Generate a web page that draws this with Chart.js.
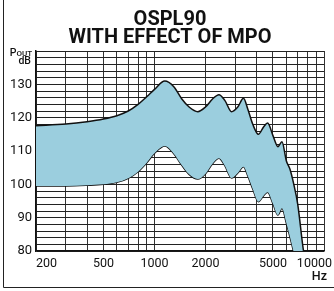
<!DOCTYPE html>
<html>
<head>
<meta charset="utf-8">
<script src="https://cdn.jsdelivr.net/npm/chart.js@4.4.1/dist/chart.umd.min.js"></script>
<style>
  html, body { margin: 0; padding: 0; background: #fff; }
  #wrap { width: 334px; height: 291px; position: relative; }
</style>
</head>
<body>
<div id="wrap"><canvas id="chartOspl" width="334" height="291"></canvas></div>
<script>
// frekuensi (Hz) yang dipakai kedua kurva
const freqs = [200, 300, 400, 500, 600, 700, 800, 900, 1000, 1150, 1300, 1450, 1600, 1800,
  2000, 2200, 2400, 2600, 2850, 3100, 3350, 3550, 3800, 4100, 4400, 4650, 5000, 5350,
  5650, 6000, 6300, 6600, 7000, 7500, 8000];

// batas atas (OSPL90)
const upperDb = [117.6, 118.1, 118.8, 119.6, 120.6, 122, 124, 126.3, 128.5, 131, 129.3,
  125.6, 123.2, 121.8, 123.2, 125.6, 126.9, 125.2, 121.8, 123.2, 125.8, 122.6, 118, 115,
  117.2, 118.4, 114.6, 111.3, 112.8, 107, 104.5, 100.5, 94, 81.5, 72];

// batas bawah (dengan efek MPO)
const lowerDb = [99.5, 99.5, 99.7, 100, 100.6, 101.8, 103.8, 106.5, 109.3, 111.5, 109.2,
  105.7, 103, 101.6, 103.2, 106.2, 107.8, 105.6, 101.9, 103.4, 105.3, 102.6, 98.6, 94.8,
  96.6, 97.6, 94.2, 90.8, 92.8, 88.3, 84.2, 80, 75, 68, 62];

// garis grid vertikal dan label sumbu
const gridFreqs = [200, 300, 400, 500, 600, 700, 800, 900, 1000, 2000, 3000, 4000, 5000,
  6000, 7000, 8000, 9000, 10000];
const xLabels = [200, 500, 1000, 2000, 5000, 10000];
const yLabels = [80, 90, 100, 110, 120, 130];
const titleLines = ['OSPL90', 'WITH EFFECT OF MPO'];

const toPoints = (vals) => freqs.map((f, i) => ({ x: f, y: vals[i] }));

const LABEL_FONT = '"Liberation Sans Narrow", "Roboto", sans-serif';

const extraText = {
  id: 'extraText',
  afterDraw(chart) {
    const { ctx } = chart;
    const xs = chart.scales.x;
    ctx.save();
    ctx.fillStyle = '#111';

    // judul
    ctx.font = 'bold 20px Roboto, sans-serif';
    ctx.textAlign = 'center';
    ctx.textBaseline = 'alphabetic';
    ctx.fillText(titleLines[0], 170, 25);
    ctx.fillText(titleLines[1], 170, 43);

    ctx.font = '12.5px ' + LABEL_FONT;
    ctx.textBaseline = 'middle';
    xLabels.forEach((v, i) => {
      const px = xs.getPixelForValue(v);
      if (i === 0) { ctx.textAlign = 'left'; ctx.fillText(String(v), px, 264); }
      else if (i === xLabels.length - 1) { ctx.textAlign = 'right'; ctx.fillText(String(v), 332, 264); }
      else { ctx.textAlign = 'center'; ctx.fillText(String(v), px, 264); }
    });
    ctx.textAlign = 'right';
    ctx.font = '500 12.5px Roboto, sans-serif';
    ctx.fillText('Hz', 327, 277);

    // Pout / dB
    ctx.textBaseline = 'alphabetic';
    ctx.font = '500 8px Roboto, sans-serif';
    const outW = ctx.measureText('OUT').width;
    ctx.fillText('OUT', 32, 56);
    ctx.font = '500 10.5px Roboto, sans-serif';
    ctx.fillText('P', 32 - outW, 56);
    ctx.fillText('dB', 31, 64);

    // bingkai luar
    ctx.strokeStyle = '#222';
    ctx.lineWidth = 1;
    ctx.beginPath();
    ctx.moveTo(3.5, 0);
    ctx.lineTo(3.5, 287.5);
    ctx.lineTo(334, 287.5);
    ctx.stroke();
    ctx.restore();
  }
};

new Chart(document.getElementById('chartOspl'), {
  type: 'line',
  data: {
    datasets: [{
      label: 'OSPL90',
      data: toPoints(upperDb),
      borderColor: '#111',
      borderWidth: 1.5,
      pointRadius: 0,
      cubicInterpolationMode: 'monotone',
      backgroundColor: 'rgb(155, 206, 222)',
      fill: '+1'
    }, {
      label: 'MPO',
      data: toPoints(lowerDb),
      borderColor: '#111',
      borderWidth: 1.5,
      pointRadius: 0,
      cubicInterpolationMode: 'monotone',
      fill: false
    }]
  },
  options: {
    responsive: false,
    animation: false,
    layout: { padding: { left: 0, right: 10, top: 51, bottom: 0 } },
    plugins: {
      legend: { display: false },
      tooltip: { enabled: false },
      title: { display: false }
    },
    scales: {
      x: {
        type: 'logarithmic',
        min: 200,
        max: 10000,
        z: 1,
        afterBuildTicks: (scale) => { scale.ticks = gridFreqs.map(v => ({ value: v })); },
        afterFit: (scale) => { scale.height = 40; },
        ticks: { display: false, autoSkip: false },
        grid: { color: '#333', lineWidth: 1, drawTicks: false },
        border: { color: '#111', width: 1.5 }
      },
      y: {
        min: 80,
        max: 140,
        z: 1,
        afterFit: (scale) => { scale.width = 36; },
        ticks: {
          stepSize: 2,
          autoSkip: false,
          padding: 4,
          color: '#111',
          font: { family: LABEL_FONT, size: 13 },
          callback: (v) => (yLabels.includes(v) ? String(v) : '')
        },
        grid: { color: '#222', lineWidth: 1, drawTicks: false },
        border: { color: '#111', width: 1.5 }
      }
    }
  },
  plugins: [extraText]
});
</script>
</body>
</html>
